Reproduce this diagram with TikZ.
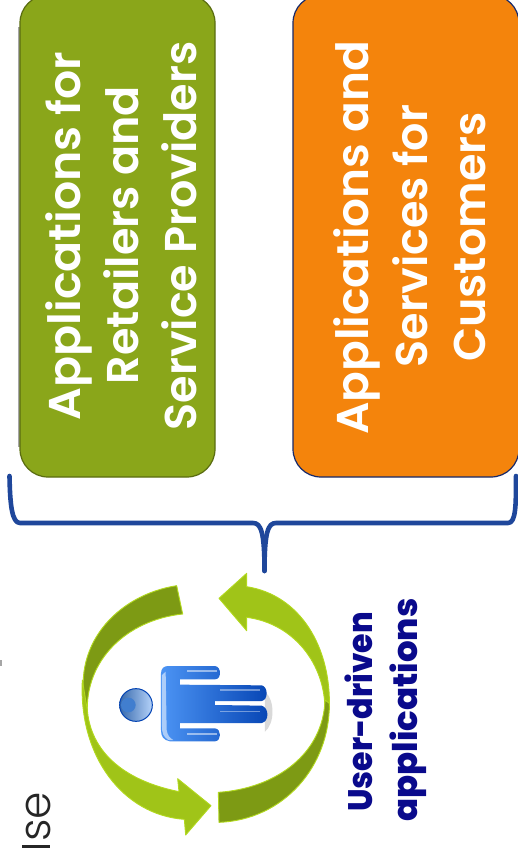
\documentclass[tikz,border=0pt]{standalone}
\usepackage{fontspec}
\usepackage{graphicx}
\newfontfamily\boxfont{Poppins SemiBold}
\newfontfamily\userfont{Poppins ExtraBold}
\newfontfamily\thinfont{Poppins Light}
\definecolor{oliveFill}{HTML}{8AA61A}
\definecolor{oliveLine}{HTML}{5A6C10}
\definecolor{orangeFill}{HTML}{F4840C}
\definecolor{navyLine}{HTML}{16296B}
\definecolor{braceBlue}{HTML}{1F479B}
\definecolor{ringDark}{HTML}{7D9A14}
\definecolor{ringLight}{HTML}{A0C418}
\definecolor{ringEdge}{HTML}{B2D91E}
\definecolor{userNavy}{HTML}{0A0A8C}
\definecolor{manLight}{HTML}{4C94F4}
\definecolor{manDark}{HTML}{0645B4}
\tikzset{
  boxlabel/.style={anchor=base,rotate=90,text=white,inner sep=0pt,font=\boxfont\fontsize{44.5}{44.5}\selectfont},
  userlabel/.style={anchor=base,rotate=90,text=userNavy,inner sep=0pt,font=\userfont\fontsize{34}{34}\selectfont},
  bigbox/.style={rectangle,rounded corners=28pt,inner sep=0pt,line width=1.2pt},
  ringdark/.style={fill=ringDark,draw=ringEdge,line width=0.9pt,line join=round},
  ringlight/.style={fill=ringLight,draw=ringEdge,line width=0.9pt,line join=round},
  bracestroke/.style={draw=braceBlue,line width=4.6pt,line cap=round,line join=round},
}
\begin{document}
\begin{tikzpicture}[x=1pt,y=-1pt]
\clip (0,0) rectangle (518,848);
\fill[white] (0,0) rectangle (518,848);
% small marks at the left edge
\fill[gray!70] (0,660) rectangle (1.5,666);
\node[anchor=base,rotate=90,inner sep=0pt,text=black!85,font=\thinfont\fontsize{44}{44}\selectfont] (cut) at (50,817) {se};
\fill[black!85] (22,845) rectangle (50,848);
% boxes
\fill[gray!70] (18,27) rectangle (20,447);
\node[bigbox,fill=oliveFill,draw=oliveLine,minimum width=195pt,minimum height=482pt] (retail) at (117.5,236) {};
\node[bigbox,fill=orangeFill,draw=navyLine,minimum width=226pt,minimum height=482pt] (cust) at (406,236) {};
\node[boxlabel] (r1) at (80,236) {\scalebox{1.03}[1]{Applications for}};
\node[boxlabel] (r2) at (138,235) {Retailers and};
\node[boxlabel] (r3) at (196,236) {Service Providers};
\node[boxlabel] (c1) at (368,238) {\scalebox{1.02}[1]{Applications and}};
\node[boxlabel] (c2) at (427,236) {Services for};
\node[boxlabel] (c3) at (485,237) {Customers};
% brace
\coordinate (braceL) at (9.5,476);
\coordinate (braceR) at (516,476);
\coordinate (braceM) at (264.5,571);
\path[bracestroke] (braceL) .. controls (10,505) and (12,523) .. (20,523) -- (253,523) .. controls (261,523) and (264.5,532) .. (braceM);
\path[bracestroke] (braceR) .. controls (516,505) and (516,523) .. (508,523) -- (276,523) .. controls (268,523) and (264.5,532) .. (braceM);
% ring of arrows and person, in 3x zoom units
\begin{scope}[x=0.33333pt,y=-0.33333pt,yshift=-540pt]
\path[ringdark] (262,520) .. controls (205,320) and (350,165) .. (530,137) -- (548,222) .. controls (380,240) and (255,360) .. cycle;
\path[ringlight] (247,420) .. controls (235,650) and (370,825) .. (553,838) -- (557,885) -- (633,797) -- (533,716) -- (537,755) .. controls (340,715) and (270,610) .. (262,510) -- cycle;
\path[ringlight] (657,175) -- (740,100) -- (740,140) .. controls (900,165) and (995,320) .. (988,510) -- (975,510) .. controls (975,370) and (880,250) .. (740,232) -- (740,272) -- cycle;
\path[ringdark] (988,490) .. controls (990,680) and (850,840) .. (657,847) -- (655,757) .. controls (830,745) and (970,640) .. (975,480) -- cycle;
% person
\fill[gray!30] (795,455) .. controls (825,480) and (825,550) .. (795,575) -- cycle;
\shade[left color=manLight,right color=manDark]
  (483,400) .. controls (483,385) and (492,378) .. (505,378) -- (645,378)
  .. controls (665,380) and (665,418) .. (645,418) -- (540,418) -- (540,434) -- (785,436)
  .. controls (805,440) and (805,480) .. (785,483) -- (645,483) -- (645,495) -- (785,497)
  .. controls (808,503) and (808,545) .. (785,549) -- (540,549) -- (540,565) -- (645,565)
  .. controls (665,567) and (665,603) .. (645,604) -- (510,604)
  .. controls (490,600) and (483,590) .. (483,570) -- cycle;
\fill[white,opacity=.55] (486,405) -- (497,395) -- (500,570) .. controls (502,585) and (510,595) .. (520,600) -- (505,600) .. controls (490,590) and (486,580) .. (486,560) -- cycle;
\fill[white,opacity=.5] (560,389) -- (650,389) -- (650,395) -- (560,395) -- cycle;
\fill[white,opacity=.4] (660,447) -- (780,447) -- (780,452) -- (660,452) -- cycle;
\fill[white,opacity=.4] (660,512) -- (780,512) -- (780,517) -- (660,517) -- cycle;
\fill[white,opacity=.5] (560,580) -- (650,580) -- (650,586) -- (560,586) -- cycle;
\shade[left color=manLight!70!black,right color=manLight!40!white] (408,495) circle[radius=50];
\fill[manLight!85!black] (385,495) circle[radius=22];
\draw[manDark,line width=1pt] (408,495) circle[radius=49];
\end{scope}
\node[userlabel] (u1) at (372,712) {\scalebox{0.93}[1]{User-driven}};
\node[userlabel] (u2) at (417,710) {applications};
\end{tikzpicture}
\end{document}
